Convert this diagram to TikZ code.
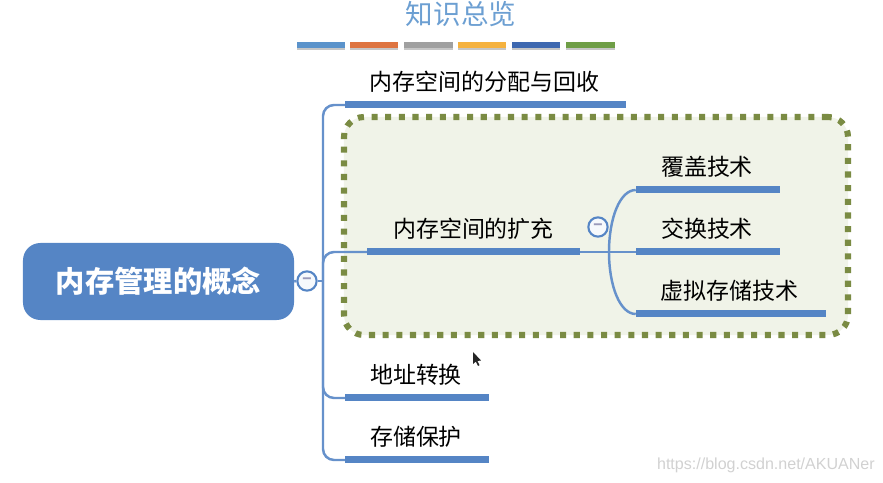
\documentclass[tikz,border=0pt]{standalone}
\usepackage{fontspec}
\setmainfont{Noto Sans CJK SC}
\newfontfamily\wmfont{Liberation Sans}
\usetikzlibrary{shadows}
\definecolor{mapblue}{HTML}{5585C5}
\definecolor{titleblue}{HTML}{6C9FD2}
\definecolor{boxgreen}{HTML}{7A8B43}
\definecolor{boxfill}{HTML}{F0F3E8}
\definecolor{minusgray}{HTML}{9A9ABA}
\begin{document}
\begin{tikzpicture}[x=0.03cm, y=-0.03cm,
  bar/.style={rectangle, fill=mapblue, inner sep=0pt, minimum height=0.21cm},
  label/.style={inner sep=0pt, text=black, font=\fontsize{19.6}{22}\selectfont},
  strip/.style={rectangle, inner sep=0pt, minimum width=1.45cm, minimum height=0.17cm,
                drop shadow={opacity=0.45, shadow xshift=0pt, shadow yshift=-2pt}},
  link/.style={draw=mapblue!90!white, line width=2.1pt, rounded corners=0.33cm},
  fold/.style={circle, draw=mapblue, line width=1.8pt, fill=white!95!mapblue, inner sep=0pt,
               minimum size=0.58cm, text=minusgray, font=\fontsize{13}{13}\selectfont\bfseries}
]
  \useasboundingbox (0,0) rectangle (883,483);

  % title
  \node[inner sep=0pt, text=titleblue, font=\fontsize{23.5}{26}\selectfont] (title) at (461,14) {知识总览};
  \foreach \name/\px/\col in {one/321/5B93CB, two/374/DE7440, three/428.5/A0A0A0,
                              four/482/F5B23F, five/536/3E68B0, six/590.5/6F9E46} {
    \definecolor{stripcol}{HTML}{\col}
    \node[strip, fill=stripcol] (\name) at (\px,45) {};
  }

  % dashed frame
  \node[rectangle, draw=boxgreen, fill=boxfill, line width=5.2pt, rounded corners=0.6cm,
        dash pattern=on 5.2pt off 6.45pt, minimum width=15.12cm, minimum height=6.54cm,
        inner sep=0pt] (frame) at (596,226) {};

  % root
  \node[rectangle, fill=mapblue, rounded corners=0.52cm, minimum width=8.13cm, minimum height=2.31cm,
        inner sep=0pt, text=white, font=\fontsize{25}{27}\selectfont\bfseries] (root) at (158.5,281.5) {内存管理的概念};
  \node[fold] (rootfold) at (307,281) {\raisebox{-2.5pt}{−}};
  \coordinate (spine) at (323,281);

  % first level
  \node[bar, minimum width=8.43cm] (alloc) at (485.5,105) {};
  \node[label] (alloctext) at (484.5,82) {内存空间的分配与回收};
  \node[bar, minimum width=6.39cm] (expand) at (473.5,252) {};
  \node[label] (expandtext) at (473.5,229) {内存空间的扩充};
  \node[bar, minimum width=4.32cm] (address) at (417,398) {};
  \node[label] (addresstext) at (416,375) {地址转换};
  \node[bar, minimum width=4.32cm] (protect) at (417,460) {};
  \node[label] (protecttext) at (416,437) {存储保护};

  % second level
  \node[bar, minimum width=4.32cm] (cover) at (708,190) {};
  \node[label] (covertext) at (707,167) {覆盖技术};
  \node[bar, minimum width=4.32cm] (swap) at (708,252) {};
  \node[label] (swaptext) at (707,229) {交换技术};
  \node[bar, minimum width=5.7cm] (virtual) at (731,314) {};
  \node[label] (virtualtext) at (729.5,291) {虚拟存储技术};
  \node[fold] (expandfold) at (598,227) {\raisebox{-2.5pt}{−}};
  \coordinate (fork) at (609,252);

  % connectors
  \draw[link] (root.east) -- (rootfold.west);
  \draw[link] (rootfold.east) -- (spine);
  \draw[link] (alloc.west) -| (spine) |- (protect.west);
  \draw[link] (spine) |- (expand.west);
  \draw[link] (spine) |- (address.west);
  \draw[link, rounded corners=0pt] (expand.east) -- (swap.west);
  \draw[link, rounded corners=0pt] (fork) .. controls (609,218) and (620,190) .. (cover.west);
  \draw[link, rounded corners=0pt] (fork) .. controls (609,286) and (620,314) .. (virtual.west);

  % pointer
  \fill[black!85] (473,352) -- (473,364) -- (475.8,361.6) -- (478,366) -- (479.5,365.2) -- (477.4,361) -- (481,360.5) -- cycle;

  % watermark
  \node[inner sep=0pt, anchor=east, text=black!18, font=\fontsize{13.7}{16}\selectfont\wmfont] (mark) at (875,465) {https://blog.csdn.net/AKUANer};
\end{tikzpicture}
\end{document}
